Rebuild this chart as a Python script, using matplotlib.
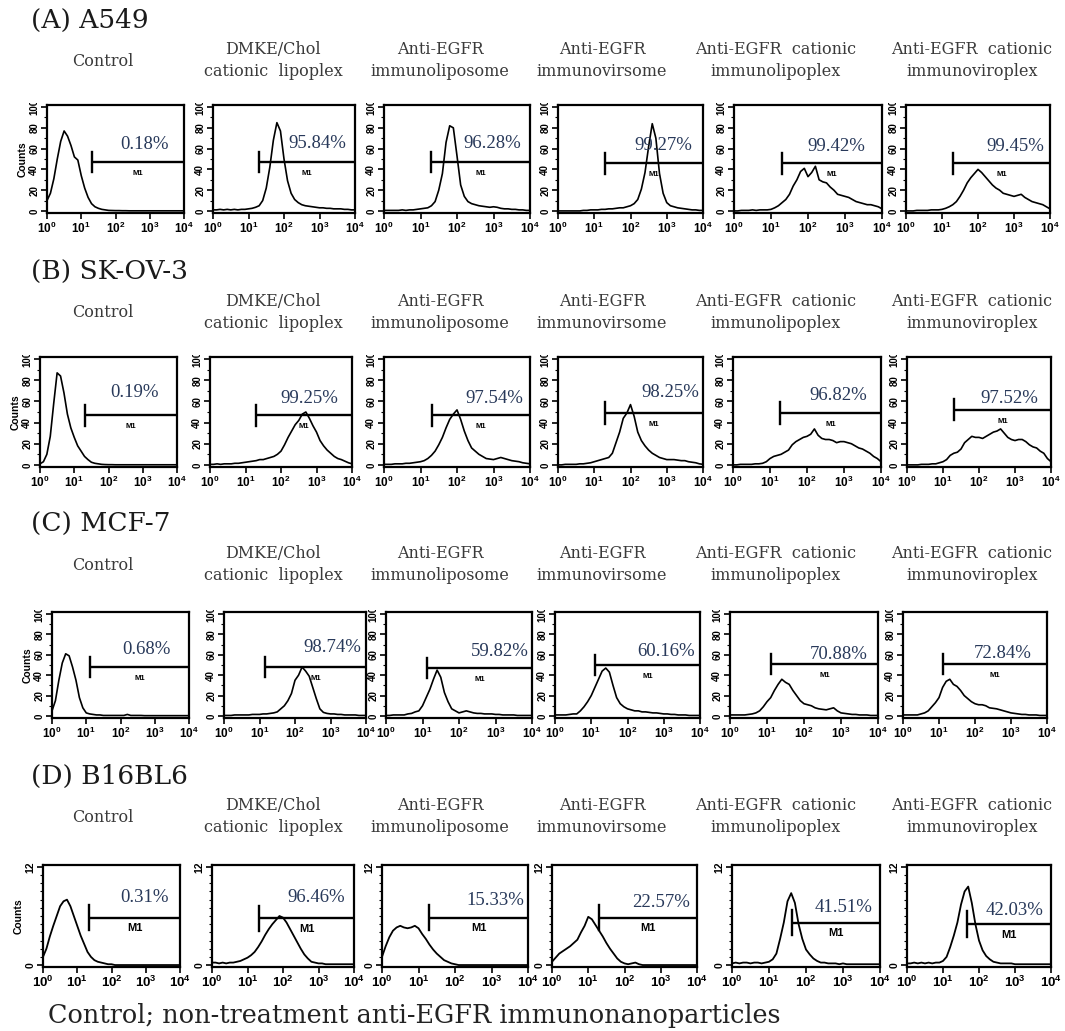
import numpy as np
import matplotlib
matplotlib.use("Agg")
import matplotlib.pyplot as plt
from matplotlib.transforms import Bbox, TransformedBbox

plt.rcParams['font.family'] = 'Liberation Serif'
plt.rcParams['mathtext.fontset'] = 'custom'
plt.rcParams['mathtext.rm'] = 'Liberation Sans:bold'
plt.rcParams['mathtext.bf'] = 'Liberation Sans:bold'

# ---- data -------------------------------------------------------------
cell_lines = ['(A) A549', '(B) SK-OV-3', '(C) MCF-7', '(D) B16BL6']
treatments = ['Control',
              'DMKE/Chol\ncationic  lipoplex',
              'Anti-EGFR\nimmunoliposome',
              'Anti-EGFR\nimmunovirsome',
              'Anti-EGFR  cationic\nimmunolipoplex',
              'Anti-EGFR  cationic\nimmunoviroplex']
positive_pct = [[0.18, 95.84, 96.28, 99.27, 99.42, 99.45],
                [0.19, 99.25, 97.54, 98.25, 96.82, 97.52],
                [0.68, 98.74, 59.82, 60.16, 70.88, 72.84],
                [0.31, 96.46, 15.33, 22.57, 41.51, 42.03]]
gate_start = [[20, 20, 20, 20, 20, 20],
              [20, 20, 21, 20, 19, 20],
              [13, 14, 13, 13, 13, 13],
              [22, 21, 20, 20, 42, 46]]
gate_level = [[47, 47, 47, 46, 46, 46],
              [47, 47, 47, 49, 49, 52],
              [48, 48, 47, 50, 51, 51],
              [5.8, 5.7, 5.8, 5.8, 5.2, 5.0]]
count_max = [100, 100, 100, 12]

# FL1 channel, log10 units (bin centres)
log_channel = np.linspace(0, 4, 41)

hist_a549 = [
    [10, 17, 31, 50, 67, 77, 72, 63, 52, 49, 34, 22, 13, 7, 4, 2.5, 1.5, 1, 0.5,
     0.4, 0.3, 0.3, 0.2, 0.2, 0.1, 0.1, 0.1, 0.1, 0.1, 0.1, 0.1, 0.1, 0.1, 0.1, 0.1, 0.1, 0.1, 0.1, 0.1, 0.1, 0.1],
    [1, 1, 1.5, 1, 1.5, 1, 1.5, 1, 1.5, 1.5, 2, 2.5, 3.5, 5, 10, 22, 42, 68, 85, 77,
     50, 29, 17, 11, 8, 6, 5, 4.5, 4, 3.5, 3, 3, 2.5, 2.5, 2, 2, 2, 1.5, 1.5, 1, 1],
    [0.5, 0.5, 0.5, 0.5, 0.5, 1, 0.5, 1, 1, 1.5, 2, 2.5, 3, 5, 9, 20, 36, 66, 82, 80,
     53, 25, 14, 9, 7, 6, 5, 4.5, 4, 3.5, 4, 3.5, 2.5, 2, 2, 1.5, 1.5, 1, 1, 0.5, 0.5],
    [0, 0, 0, 0, 0, 0, 0, 0.5, 0.5, 1, 1, 1, 1.5, 1.5, 2, 2, 2.5, 3, 3, 4,
     5, 7, 11, 21, 37, 62, 84, 70, 36, 17, 8, 5, 4, 3, 2.5, 2, 1.5, 1, 1, 0.5, 0.5],
    [0, 0, 0.5, 0.5, 0.5, 1, 0.5, 1, 1, 1, 1.5, 3, 5, 8, 11, 16, 24, 30, 38, 41,
     33, 37, 43, 30, 28, 27, 23, 20, 16, 15, 14, 13, 11, 9, 8, 7, 6, 6, 5, 4, 2],
    [0, 0, 0, 0.5, 0.5, 0.5, 0.5, 1, 1, 1, 1.5, 2.5, 4, 6, 9, 14, 20, 27, 32, 36,
     40, 37, 33, 29, 25, 22, 20, 17, 16, 15, 14, 15, 16, 13, 11, 9, 8, 7, 6, 4, 2],
]
hist_skov3 = [
    [1, 3, 10, 27, 58, 87, 84, 68, 48, 35, 26, 18, 13, 8, 5, 2.5, 1.5, 1, 0.5, 0.3,
     0.2, 0.2, 0.1, 0.1, 0.1, 0.1, 0.1, 0.1, 0.1, 0.1, 0.1, 0.1, 0.1, 0.1, 0.1, 0.1, 0.1, 0.1, 0.1, 0.1, 0.1],
    [0.5, 0.5, 1, 0.5, 1, 1, 1, 1.5, 1.5, 2, 2.5, 3, 3.5, 4, 5, 5, 6, 7, 8, 10,
     13, 19, 26, 32, 38, 42, 48, 50, 44, 37, 31, 23, 18, 14, 11, 8, 6, 5, 3.5, 2, 1],
    [0.5, 0.5, 0.5, 1, 1, 1, 1.5, 1.5, 2, 2.5, 3, 4, 6, 9, 13, 19, 26, 35, 43, 48,
     52, 43, 32, 23, 16, 13, 10, 8, 6, 5.5, 5, 6, 7, 6, 5, 4, 3.5, 3, 2, 1.5, 1],
    [0, 0, 0.5, 0.5, 0.5, 0.5, 1, 1, 1.5, 2, 3, 4, 5, 6, 7, 11, 21, 31, 44, 49,
     57, 46, 31, 23, 18, 14, 11, 9, 7, 6, 5, 5, 5, 4.5, 4, 4, 3, 2.5, 2, 1, 0.5],
    [0, 0, 0.5, 0.5, 0.5, 0.5, 1, 1, 1.5, 3, 6, 8, 9, 10, 12, 14, 19, 22, 24, 26,
     27, 29, 34, 28, 25, 24, 24, 23, 21, 22, 22, 21, 20, 18, 16, 15, 13, 11, 8, 6, 3],
    [0, 0, 0, 0, 0.5, 0.5, 0.5, 1, 1, 2, 3, 5, 9, 11, 12, 15, 21, 24, 27, 26,
     26, 25, 27, 29, 31, 32, 34, 30, 26, 24, 23, 24, 24, 22, 19, 17, 16, 13, 11, 6, 3],
]
hist_mcf7 = [
    [5, 15, 35, 52, 61, 59, 48, 35, 18, 8, 3, 2, 1.5, 1, 1, 0.5, 0.5, 0.5, 0.5, 0.5,
     0.5, 0.5, 1.5, 0.5, 0.5, 0.5, 0.5, 0.3, 0.3, 0.3, 0.3, 0.3, 0.3, 0.3, 0.3, 0.3, 0.3, 0.3, 0.3, 0.3, 0.3],
    [0.5, 0.5, 0.5, 1, 1, 1, 1, 1, 1.5, 1.5, 1.5, 2, 2, 2.5, 3, 4, 7, 10, 15, 22,
     35, 40, 48, 44, 39, 28, 17, 7, 3.5, 2.5, 2, 2, 1.5, 1.5, 1, 1, 1, 1, 0.5, 0.5, 0.5],
    [0.5, 0.5, 1, 1, 1, 1, 2, 2.5, 4, 5, 10, 18, 26, 36, 45, 38, 23, 14, 7, 5,
     3, 4, 5, 4, 3, 2.5, 2.5, 2, 2, 2, 1.5, 1.5, 1, 1, 1, 1, 0.5, 0.5, 0.5, 0.5, 0.5],
    [1, 1, 1, 1, 1.5, 2, 2, 5, 9, 14, 20, 28, 36, 44, 47, 43, 30, 18, 12, 9,
     7, 6, 5, 5, 4, 4, 3.5, 3, 3, 2.5, 2, 2, 1.5, 1.5, 1, 1, 1, 0.5, 0.5, 0.5, 0.5],
    [1, 1, 1, 1, 1, 1.5, 2, 3, 5, 9, 14, 18, 25, 31, 36, 33, 31, 25, 20, 15,
     12, 11, 10, 8, 7, 6.5, 6, 7, 8, 5, 3, 2.5, 2, 1.5, 1.5, 1, 1, 1, 0.5, 0.5, 0.5],
    [1, 1, 1, 1, 1, 2, 3, 5, 9, 13, 18, 28, 34, 36, 31, 29, 25, 20, 17, 14,
     12, 11, 11, 10, 8, 7.5, 7, 6, 5, 4, 3, 2.5, 2, 1.5, 1.5, 1, 1, 1, 0.5, 0.5, 0.5],
]
hist_b16bl6 = [
    [1, 2, 3.5, 4.8, 6, 7.2, 7.8, 8, 7.2, 6, 4.8, 3.6, 2.6, 1.6, 1, 0.6, 0.4, 0.3, 0.2, 0.1,
     0.1, 0, 0, 0, 0, 0, 0, 0, 0, 0, 0, 0, 0, 0, 0, 0, 0, 0, 0, 0, 0],
    [0.3, 0.3, 0.2, 0.3, 0.2, 0.3, 0.3, 0.4, 0.5, 0.7, 0.9, 1.2, 1.6, 2.2, 2.9, 3.7, 4.4, 5, 5.5, 6,
     5.8, 5.2, 4.4, 3.6, 2.8, 2.0, 1.3, 0.8, 0.4, 0.3, 0.2, 0.2, 0.1, 0.1, 0.1, 0.1, 0.1, 0.1, 0.1, 0.1, 0.1],
    [1, 2.3, 3.4, 4.2, 4.6, 4.8, 4.6, 4.5, 4.6, 4.8, 4.5, 3.8, 3.2, 2.5, 1.9, 1.4, 1, 0.6, 0.4, 0.2,
     0.1, 0, 0, 0, 0, 0, 0, 0, 0, 0, 0, 0, 0, 0, 0, 0, 0, 0, 0, 0, 0],
    [0.4, 0.9, 1.4, 1.7, 2, 2.3, 2.7, 3.1, 4, 4.8, 5.9, 5.6, 4.9, 4.2, 3.5, 2.7, 2, 1.4, 0.8, 0.4,
     0.2, 0.1, 0.2, 0.3, 0.1, 0, 0, 0, 0, 0, 0, 0, 0, 0, 0, 0, 0, 0, 0, 0, 0],
    [0.2, 0.3, 0.2, 0.3, 0.3, 0.2, 0.3, 0.3, 0.2, 0.3, 0.4, 0.7, 1.4, 3.2, 5.2, 7.8, 8.8, 7.6, 5, 3.2,
     1.9, 1.3, 0.8, 0.5, 0.3, 0.3, 0.2, 0.2, 0.2, 0.1, 0.2, 0.1, 0.1, 0.1, 0.1, 0.1, 0.1, 0.1, 0.1, 0.1, 0.1],
    [0.2, 0.2, 0.3, 0.2, 0.3, 0.2, 0.3, 0.2, 0.3, 0.3, 0.5, 1.0, 2.2, 3.6, 5.2, 7.4, 9, 9.6, 7.6, 5,
     3, 1.8, 1.1, 0.7, 0.4, 0.3, 0.2, 0.2, 0.2, 0.2, 0.1, 0.1, 0.1, 0.1, 0.1, 0.1, 0.1, 0.1, 0.1, 0.1, 0.1],
]
histograms = [hist_a549, hist_skov3, hist_mcf7, hist_b16bl6]

# ---- layout (pixels) --------------------------------------------------
W, H = 1065, 1031
col_left = [[47, 213, 384, 558, 734, 906],
            [40, 210, 384, 558, 733, 907],
            [52, 224, 386, 555, 730, 903],
            [43, 212, 382, 552, 732, 907]]
col_width = [137, 142, 146, 145, 148, 144]
row_top = [105, 357, 612, 865]
row_bottom = [213, 467, 718, 967]
header_x = [103, 273, 440, 602, 776, 972]
pct_x = [[3.55, 3.76, 3.75, 3.71, 3.56, 3.85],
         [3.47, 3.60, 3.82, 3.90, 3.62, 3.64],
         [3.46, 3.87, 3.90, 3.86, 3.72, 3.58],
         [3.66, 3.75, 3.89, 3.82, 3.80, 3.80]]
pct_y = [[64, 65, 65, 63, 62, 62],
         [68, 63, 63, 68, 66, 63],
         [65, 67, 63, 63, 60, 61],
         [8.3, 8.3, 7.9, 7.6, 7.1, 6.7]]
pct_color = '#28395a'
head_font = 'DejaVu Serif'

fig = plt.figure(figsize=(W / 100, H / 100), dpi=100)


def fx(px):
    return px / W


def fy(py):
    return 1 - py / H


for r in range(4):
    off = 252 * r
    fig.text(fx(31), fy(20 + off), cell_lines[r], fontsize=19, va='center', ha='left',
             family=head_font, color='#1a1a1a')
    for c in range(6):
        if '\n' in treatments[c]:
            top, bot = treatments[c].split('\n')
            fig.text(fx(header_x[c]), fy(49 + off), top, fontsize=11.5, ha='center', va='center',
                     family=head_font, color='#3a3a3a')
            fig.text(fx(header_x[c]), fy(72 + off), bot, fontsize=11.5, ha='center', va='center',
                     family=head_font, color='#3a3a3a')
        else:
            fig.text(fx(header_x[c]), fy(61 + off), treatments[c], fontsize=11.5, ha='center', va='center',
                     family=head_font, color='#3a3a3a')

        x0 = col_left[r][c]
        ax = fig.add_axes([fx(x0), fy(row_bottom[r]), col_width[c] / W, (row_bottom[r] - row_top[r]) / H])
        ymax = count_max[r]
        small = ymax == 12
        ax.plot(10 ** log_channel, histograms[r][c], color='black', lw=1.3 if small else 1.2)
        ax.set_xscale('log')
        ax.set_xlim(1, 10000)
        ax.set_ylim(-0.02 * ymax, ymax * 1.02)

        for s in ax.spines.values():
            s.set_linewidth(1.6)
        ax.set_xticks([1, 10, 100, 1000, 10000])
        ax.set_xticklabels([r'$10^{%d}$' % k for k in range(5)], fontsize=9.5 if small else 8.5)
        if small:
            ax.set_yticks([0, 12])
            ax.set_yticks(range(0, 13), minor=True)
        else:
            ax.set_yticks([0, 20, 40, 60, 80, 100])
            ax.set_yticks(range(0, 101, 10), minor=True)
        ax.set_yticklabels(ax.get_yticks().astype(int), rotation=90, va='center',
                           fontsize=7.5 if small else 7, fontweight='bold', family='Liberation Sans')
        ax.tick_params(which='major', direction='out', length=4, width=1.2, pad=1.5)
        ax.tick_params(which='minor', direction='out', length=2, width=0.8)
        # top count label is cut by the frame edge
        clip = TransformedBbox(Bbox([[0, 0], [1, fy(row_top[r] - 2)]]), fig.transFigure)
        for lbl in ax.get_yticklabels():
            lbl.set_clip_box(clip)
            lbl.set_clip_on(True)
        if c == 0:
            ax.set_ylabel('Counts', fontsize=7.5, fontweight='bold', family='Liberation Sans', labelpad=1)

        # M1 marker gate
        g0 = gate_start[r][c]
        gy = gate_level[r][c]
        tick_h = 0.13 * ymax if small else 0.1 * ymax
        ax.plot([g0, 10000], [gy, gy], color='black', lw=1.7, solid_capstyle='butt')
        ax.plot([g0, g0], [gy - tick_h, gy + tick_h], color='black', lw=1.7)
        mid = 10 ** ((np.log10(g0) + 4) / 2)
        ax.text(mid, gy - 0.11 * ymax, 'M1', fontsize=8 if small else 5.5, fontweight='bold',
                family='Liberation Sans', ha='center', va='center')

        ax.text(10 ** pct_x[r][c], pct_y[r][c], '%.2f%%' % positive_pct[r][c], fontsize=13.5,
                color=pct_color, ha='right', va='center')

fig.text(fx(48), fy(1016), 'Control; non-treatment anti-EGFR immunonanoparticles',
         fontsize=18.4, ha='left', va='center', family=head_font, color='#222222')

fig.savefig('out.png', dpi=100)
